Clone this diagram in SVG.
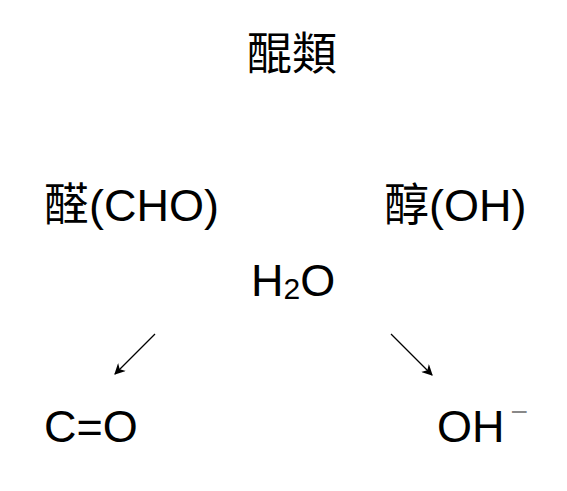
<svg xmlns="http://www.w3.org/2000/svg" width="567" height="491" viewBox="0 0 567 491">
<defs>
<style>
.t{font-family:"Liberation Sans","Noto Sans CJK TC",sans-serif;font-size:45px;fill:#000}
.cjk{font-family:serif,"Noto Sans CJK TC"}
.arr{stroke:#000;stroke-width:1.3;fill:none;marker-end:url(#ah)}
</style>
<marker id="ah" viewBox="0 0 10 10" refX="9" refY="5" markerWidth="11" markerHeight="11" markerUnits="userSpaceOnUse" orient="auto">
<path d="M0,0 L10,5 L0,10 L3,5 Z" fill="#000"/>
</marker>
</defs>
<rect width="567" height="491" fill="#fff"/>
<g id="title"><text class="t" x="292" y="70" text-anchor="middle" font-size="46"><tspan class="cjk">醌類</tspan></text></g>
<g id="aldehyde"><text class="t" x="44" y="221" font-size="47"><tspan class="cjk">醛</tspan>(CHO)</text></g>
<g id="alcohol"><text class="t" x="384" y="221" font-size="47"><tspan class="cjk">醇</tspan>(OH)</text></g>
<g id="water"><text class="t" x="251" y="296">H<tspan font-size="30" dy="3">2</tspan><tspan dy="-3">O</tspan></text></g>
<g id="carbonyl"><text class="t" x="44" y="442">C=O</text></g>
<g id="hydroxide"><text class="t" x="437" y="442">OH<tspan font-size="30" dx="6" dy="-20" fill="#888">−</tspan></text></g>
<g id="connectors">
<line class="arr" x1="155" y1="334" x2="115" y2="374"/>
<line class="arr" x1="391" y1="334" x2="432" y2="375"/>
</g>
</svg>
